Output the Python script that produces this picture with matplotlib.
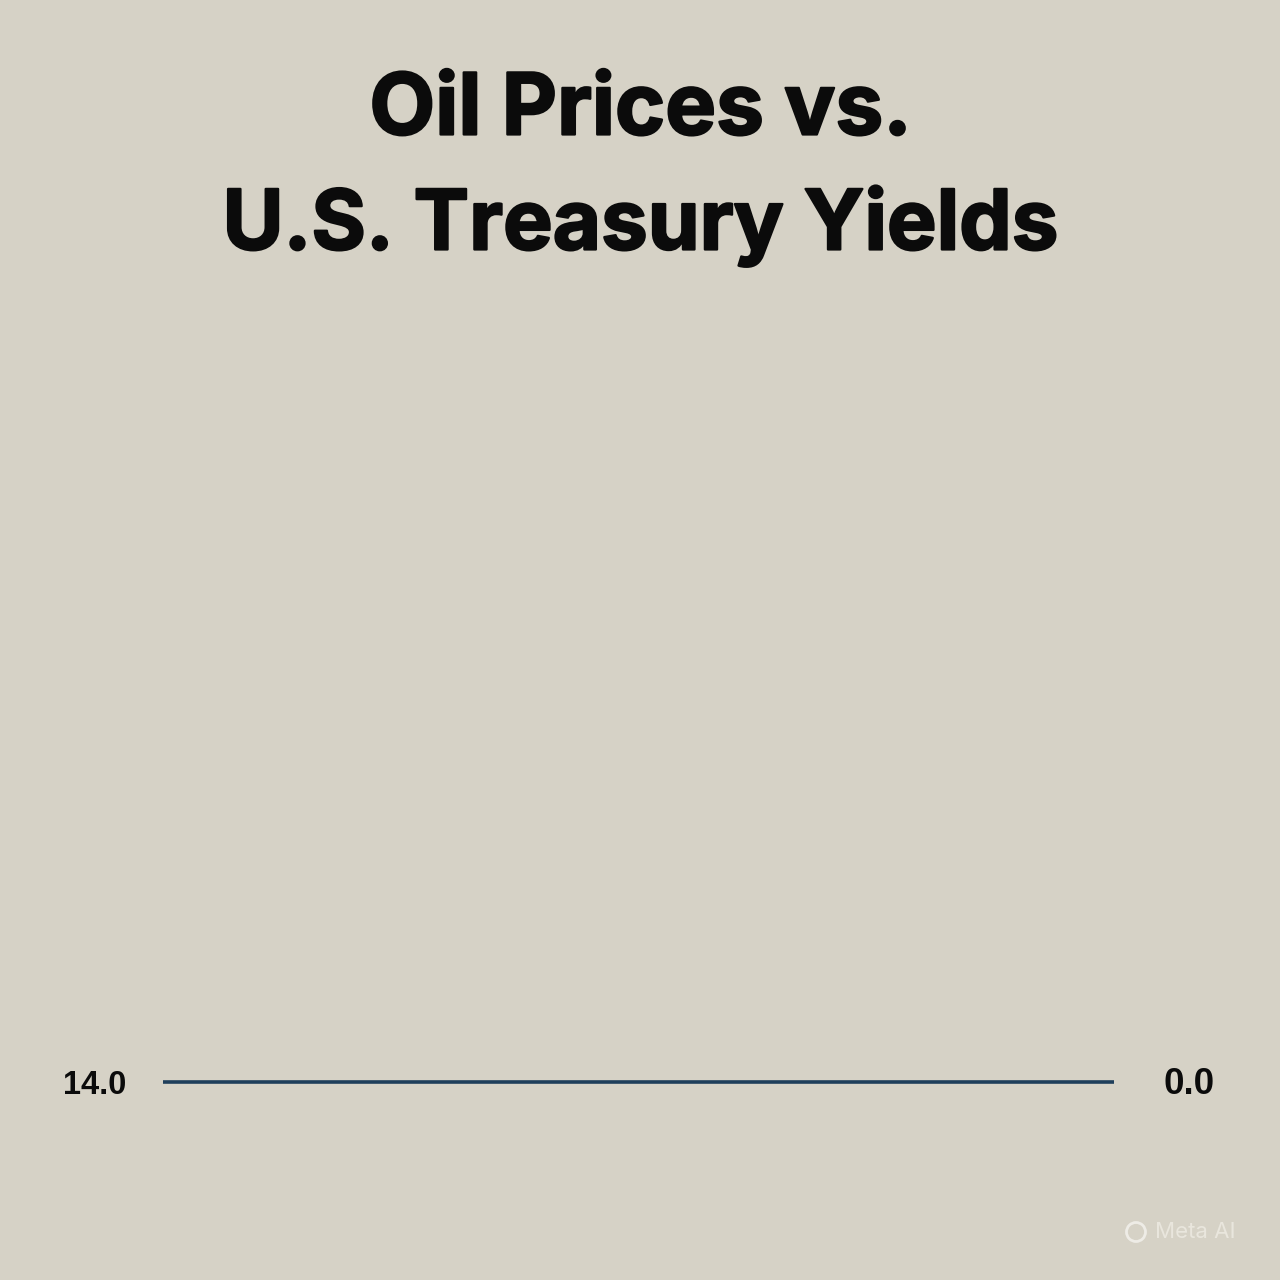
import matplotlib
matplotlib.use("Agg")
import matplotlib.pyplot as plt
import matplotlib.patheffects as pe
from matplotlib.patches import Circle

title_lines = ["Oil Prices vs.", "U.S. Treasury Yields"]
x_values = [0, 1]
y_values = [0.0, 0.0]
left_label = "14.0"
right_label = "0.0"
watermark = "Meta AI"

BG = "#d6d2c6"
plt.rcParams["font.family"] = ["Inter", "Liberation Sans", "DejaVu Sans"]

fig = plt.figure(figsize=(12.8, 12.8), dpi=100, facecolor=BG)
W = 1280.0

def fx(p): return p / W
def fy(p): return 1 - p / W

ax = fig.add_axes([fx(163), fy(1112), (1114 - 163) / W, 60 / W])
ax.set_facecolor("none")
ax.axis("off")
ax.set_xlim(0, 1)
ax.set_ylim(-1, 1)
ax.plot(x_values, y_values, color="#1f3f5b", lw=2.6, solid_capstyle="round")

heavy = [pe.withStroke(linewidth=1.6, foreground="#0b0b0b")]
fig.text(fx(640.5), fy(112), title_lines[0], ha="center", va="center", fontsize=61.5,
         fontweight="bold", color="#0b0b0b", path_effects=heavy)
fig.text(fx(640.5), fy(226), title_lines[1], ha="center", va="center", fontsize=60,
         fontweight="bold", color="#0b0b0b", path_effects=heavy)
fig.text(fx(95), fy(1085), left_label, ha="center", va="center", fontsize=23.5,
         fontweight="bold", family="Liberation Sans", color="#0b0b0b")
fig.text(fx(1189.5), fy(1085), right_label, ha="center", va="center", fontsize=26.5,
         fontweight="bold", family="Liberation Sans", color="#0b0b0b")
fig.text(fx(1155), fy(1232), watermark, ha="left", va="center", fontsize=16, color="#e9e6dd")
fig.add_artist(Circle((fx(1136), fy(1232)), 9.5 / W, transform=fig.transFigure, fill=False,
                      ec="#eeece6", lw=2))

fig.savefig("out.png", dpi=100, facecolor=BG)
